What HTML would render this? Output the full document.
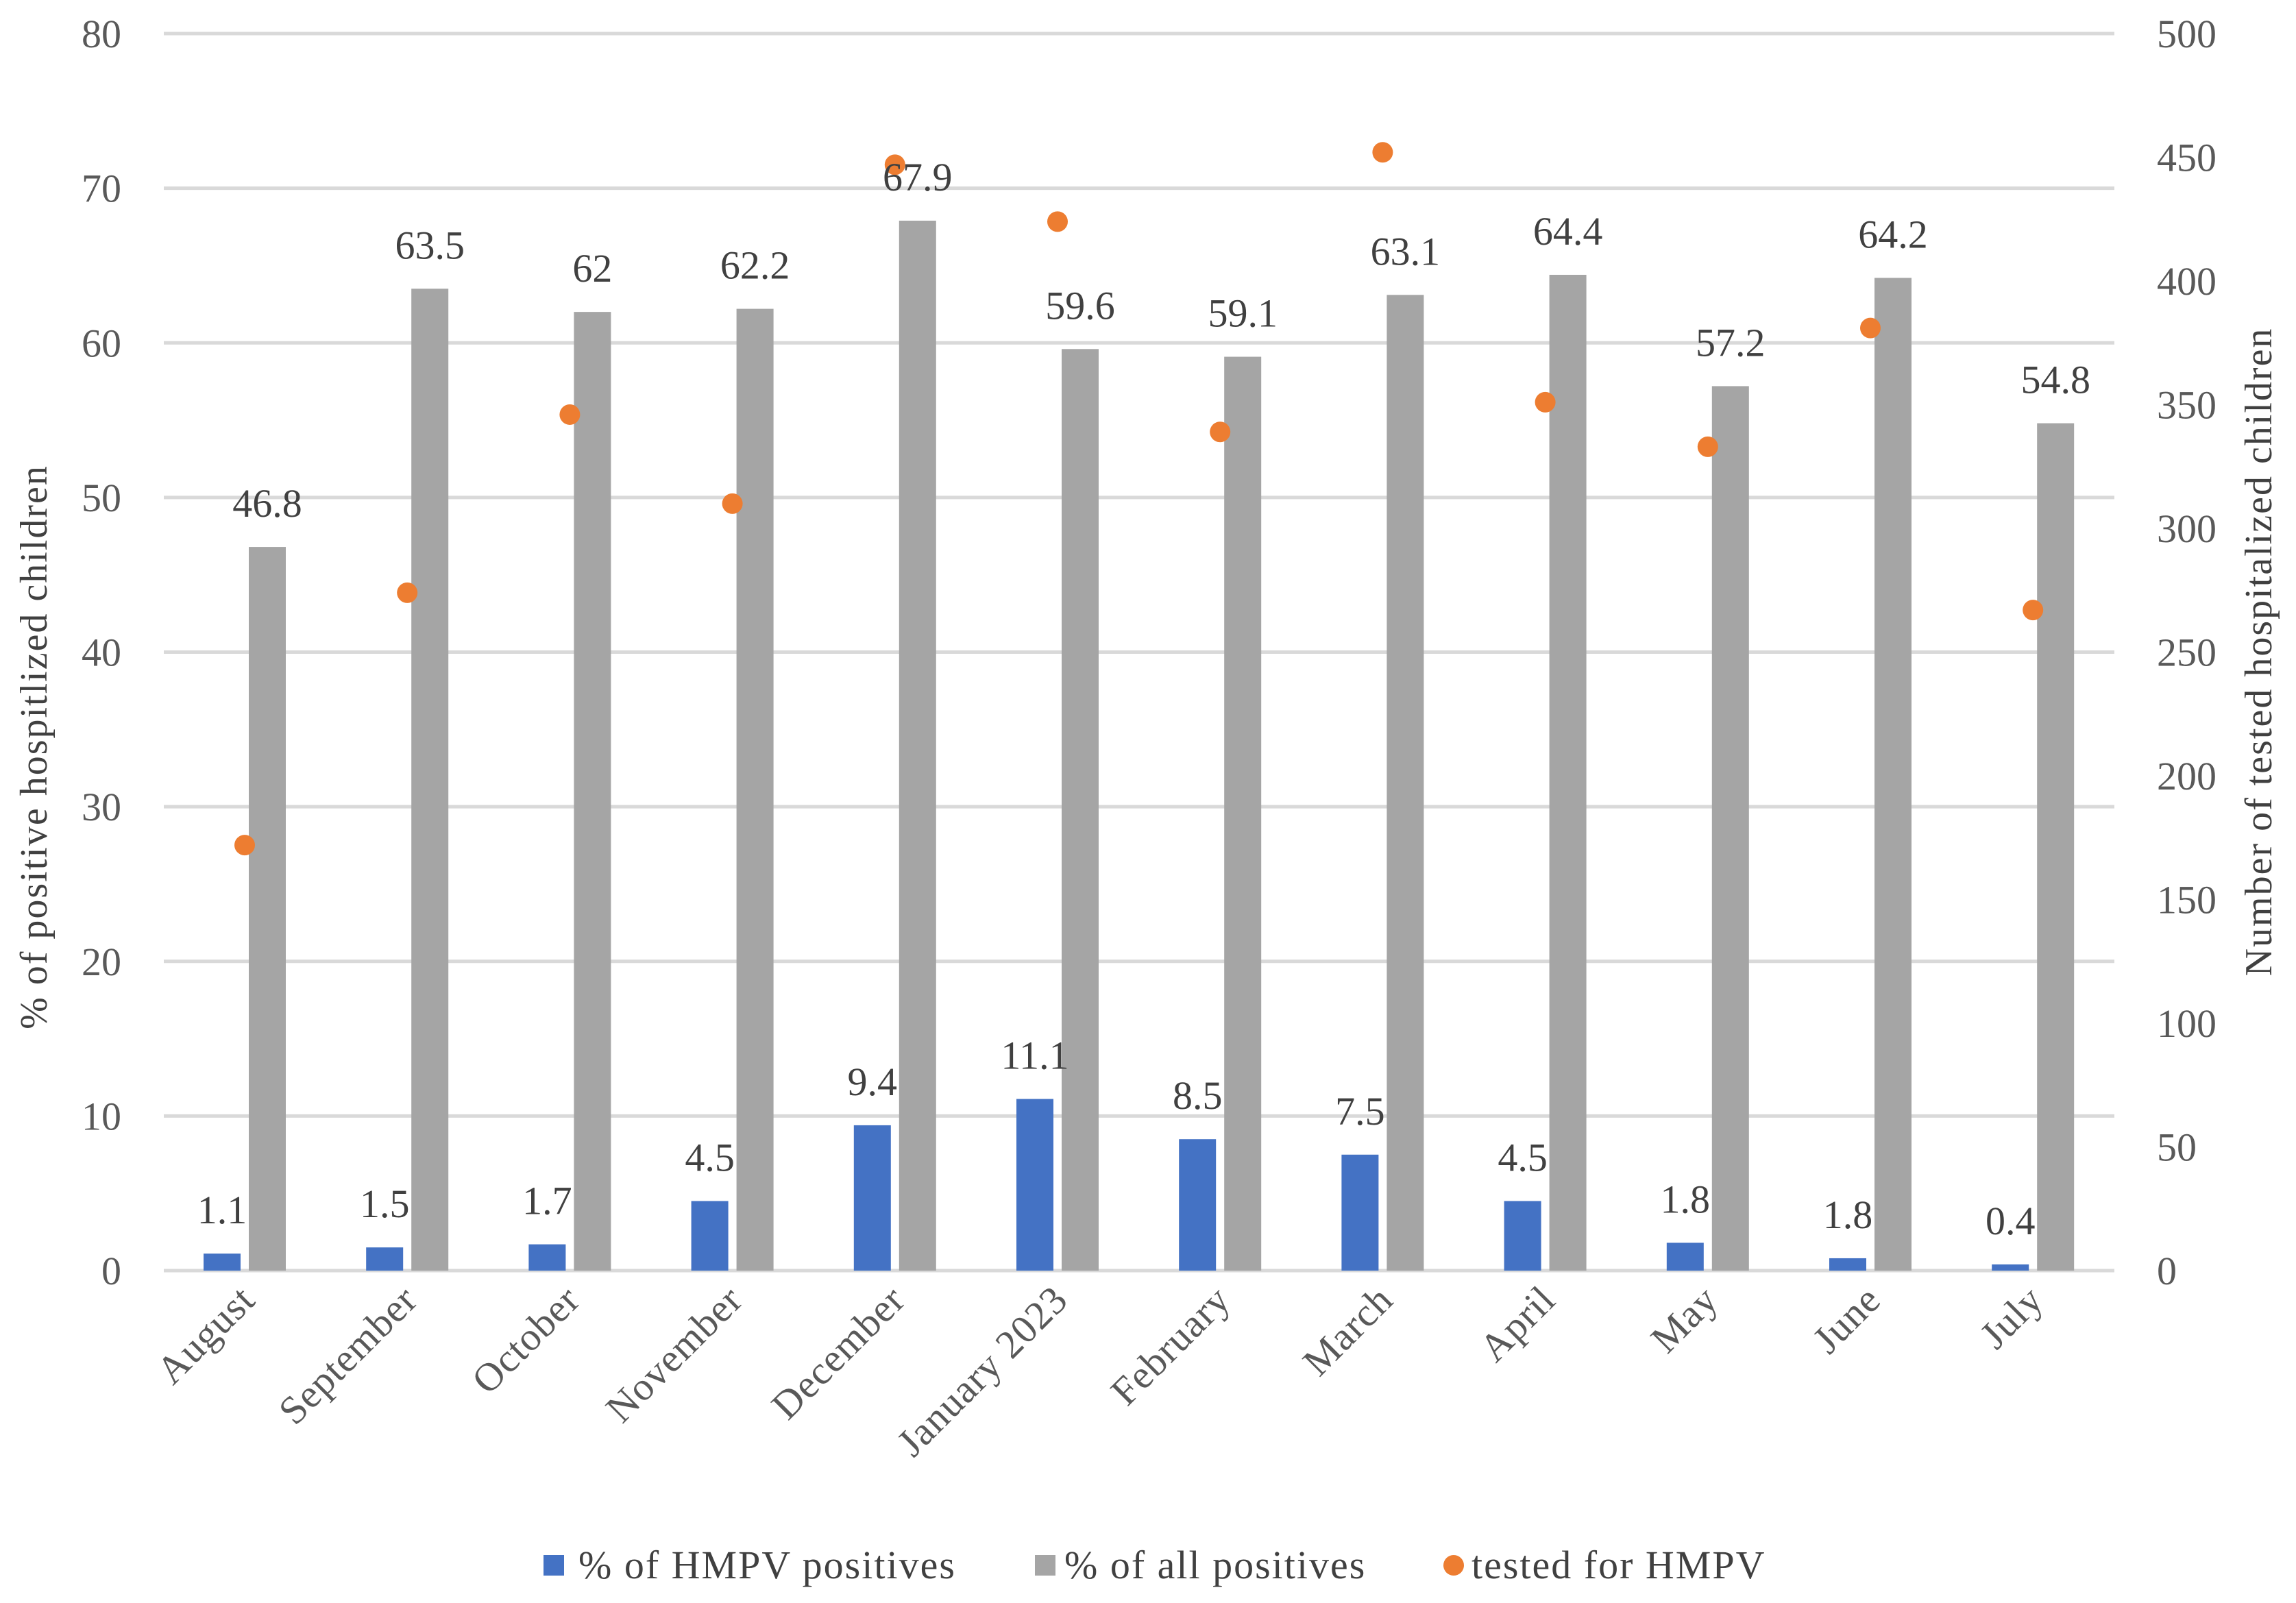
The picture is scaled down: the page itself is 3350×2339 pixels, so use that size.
<!DOCTYPE html>
<html><head><meta charset="utf-8"><style>
html,body{margin:0;padding:0;background:#fff;}
svg{display:block;font-family:"Liberation Serif",serif;}
</style></head><body>
<svg id="chart" width="3350" height="2339" viewBox="0 0 3350 2339">
<g id="grid"></g><g id="bars"></g><g id="dots"></g><g id="labels"></g>
<text transform="translate(68,1090) rotate(-90)" text-anchor="middle" font-size="56" letter-spacing="2" fill="#404040">% of  positive hospitlized children</text>
<text transform="translate(3314,951) rotate(-90)" text-anchor="middle" font-size="56" letter-spacing="2" fill="#404040">Number of tested  hospitalized children</text>
<g font-size="58" letter-spacing="2" fill="#404040">
<rect x="793" y="2269" width="30" height="30" fill="#4472C4"/>
<text x="844" y="2303">% of HMPV positives</text>
<rect x="1510" y="2269" width="30" height="30" fill="#A5A5A5"/>
<text x="1553" y="2303">% of all positives</text>
<circle cx="2121" cy="2284" r="15" fill="#ED7D31"/>
<text x="2147" y="2303">tested for HMPV</text>
</g>
</svg>
<script>
const categories=["August","September","October","November","December","January 2023","February","March","April","May","June","July"];
const hmpv=[1.1,1.5,1.7,4.5,9.4,11.1,8.5,7.5,4.5,1.8,0.8,0.4];
const hmpvLabels=["1.1","1.5","1.7","4.5","9.4","11.1","8.5","7.5","4.5","1.8","1.8","0.4"];
const allPos=[46.8,63.5,62,62.2,67.9,59.6,59.1,63.1,64.4,57.2,64.2,54.8];
const tested=[172,274,346,310,447,424,339,452,351,333,381,267];
const leftTicks=[0,10,20,30,40,50,60,70,80];
const rightTicks=[0,50,100,150,200,250,300,350,400,450,500];
const NS="http://www.w3.org/2000/svg";
const y0=1854,yTop=49;
const yL=v=>y0-(v/80)*(y0-yTop);
const yR=v=>y0-(v/500)*(y0-yTop);
const xC=i=>357+i*237.2;
function mk(tag,parent,attrs){const e=document.createElementNS(NS,tag);for(const k in attrs)e.setAttribute(k,attrs[k]);document.getElementById(parent).appendChild(e);return e;}
leftTicks.forEach(t=>{
 const l=mk('rect','grid',{x:239,y:yL(t)-2.5,width:2846,height:5,fill:'#D9D9D9'});
 
 
 const tx=mk('text','grid',{x:177,y:yL(t)+20,'text-anchor':'end','font-size':58,fill:'#595959'});
 tx.textContent=t;
 
 
});
rightTicks.forEach(t=>{
 const tx=mk('text','grid',{x:3147,y:yR(t)+20,'font-size':58,fill:'#595959'});
 tx.textContent=t;
 
 
});
categories.forEach((c,i)=>{
 const cx=xC(i);
 const b=mk('rect','bars',{x:cx-60,y:yL(hmpv[i]),width:54,height:y0-yL(hmpv[i]),fill:'#4472C4'});
 
 
 const g=mk('rect','bars',{x:cx+6,y:yL(allPos[i]),width:54,height:y0-yL(allPos[i]),fill:'#A5A5A5'});
 
 
 const d=mk('circle','dots',{cx:cx,cy:yR(tested[i]),r:15,fill:'#ED7D31'});
 
 
 const lb=mk('text','labels',{x:cx-33,y:yL(hmpv[i])-44,'text-anchor':'middle','font-size':58,fill:'#404040'});
 lb.textContent=hmpvLabels[i];
 
 
 const lg=mk('text','labels',{x:cx+33,y:yL(allPos[i])-44,'text-anchor':'middle','font-size':58,fill:'#404040'});
 lg.textContent=allPos[i];
 
 
 const xl=mk('text','labels',{transform:`translate(${cx+18},${y0+46}) rotate(-45)`,'text-anchor':'end','font-size':58,'letter-spacing':1,fill:'#595959'});
 xl.textContent=c;
 
 
});
</script>
</body></html>
